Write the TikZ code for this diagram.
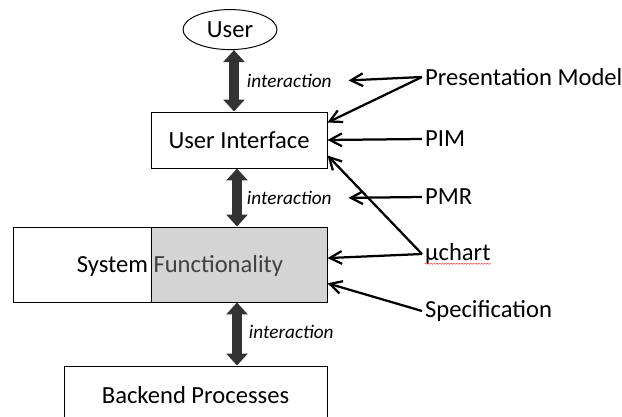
\documentclass[tikz,border=0pt]{standalone}
\usepackage{fontspec}
\setmainfont{Carlito}
\usetikzlibrary{arrows.meta,shapes.geometric,decorations.pathmorphing}
\definecolor{arrowgray}{HTML}{333333}
\definecolor{noisegray}{HTML}{D4D4D4}
\tikzset{
    box/.style={draw, line width=0.7pt, font=\fontsize{17.5}{20}\selectfont, inner sep=0pt},
    bigarrow/.style={arrowgray, line width=0.25cm,
        {Triangle[width=0.525cm,length=0.3cm]}-{Triangle[width=0.525cm,length=0.3cm]}},
    thinarrow/.style={line width=1.6pt, -{Straight Barb[length=0.3cm,width=0.32cm]}},
    modeltext/.style={font=\fontsize{17.5}{20}\selectfont, anchor=west, inner sep=2pt},
    interlabel/.style={font=\fontsize{13.7}{16}\selectfont\itshape, anchor=west}
}

\begin{document}
\begin{tikzpicture}
    \clip (0,0) rectangle (15.55,-10.425);

    % boxes
    \node[box, ellipse, minimum width=2.35cm, minimum height=1.0cm] (user) at (5.75,-0.74) {User};
    \node[box, minimum width=4.4cm, minimum height=1.4cm] (ui) at (5.975,-3.5) {User Interface};
    \node[box, minimum width=7.85cm, minimum height=1.875cm] (sys) at (4.25,-6.6125) {};
    \draw[line width=0.7pt, fill=noisegray] (3.775,-5.675) rectangle (sys.south east);
    \node[font=\fontsize{17.5}{20}\selectfont] (systext) at (4.5,-6.65) {System \textcolor{black!75}{Functionality}};
    \node[box, minimum width=6.575cm, minimum height=1.45cm] (back) at (4.8875,-9.875) {Backend Processes};

    % interaction arrows
    \coordinate (a1) at ([xshift=0.1cm]user.south);
    \coordinate (a2) at ([xshift=-0.05cm]ui.south);
    \coordinate (a3) at ([xshift=1.675cm]sys.south);
    \draw[bigarrow] (a1) -- (a1 |- ui.north);
    \draw[bigarrow] (a2) -- (a2 |- sys.north);
    \draw[bigarrow] (a3) -- (a3 |- back.north);

    \node[interlabel] (int1) at (6.05,-2.025) {interaction};
    \node[interlabel] (int2) at (6.05,-4.95) {interaction};
    \node[interlabel] (int3) at (6.1,-8.3) {interaction};

    % models
    \node[modeltext] (pm) at (10.55,-1.925) {Presentation Model};
    \node[modeltext] (pim) at (10.55,-3.475) {PIM};
    \node[modeltext] (pmr) at (10.55,-4.925) {PMR};
    \node[modeltext] (uchart) at (10.55,-6.35) {µchart};
    \node[modeltext] (spec) at (10.55,-7.775) {Specification};
    \draw[red!70, line width=0.4pt, decorate, decoration={snake, amplitude=0.4pt, segment length=2pt}]
        ([shift={(0.07,-0.08)}]uchart.base west) -- ([shift={(-0.07,-0.08)}]uchart.base east);

    \draw[thinarrow, shorten >=0.3cm] (pm.west) -- (int1.east);
    \draw[thinarrow] (pm.west) -- ([yshift=-0.275cm]ui.north east);
    \draw[thinarrow] (pim.west) -- (ui.east);
    \draw[thinarrow, shorten >=0.3cm] (pmr.west) -- (int2.east);
    \draw[thinarrow] (uchart.west) -- ([yshift=0.325cm]ui.south east);
    \draw[thinarrow] (uchart.west) -- ([yshift=0.16cm]sys.east);
    \draw[thinarrow] (spec.west) -- ([yshift=-0.47cm]sys.east);
\end{tikzpicture}
\end{document}
